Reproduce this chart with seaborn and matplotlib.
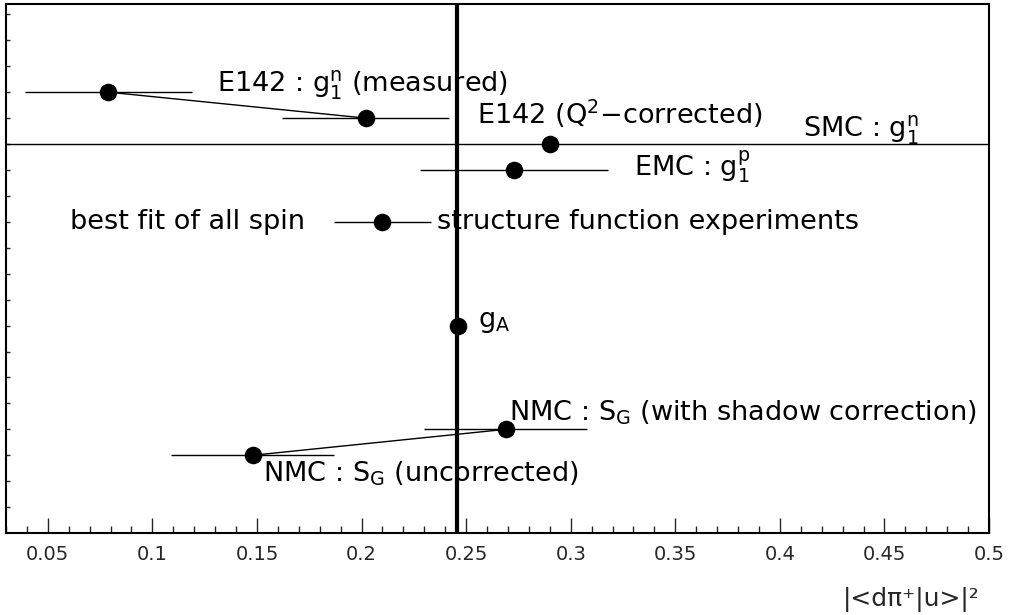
import numpy as np
import pandas as pd
import seaborn as sns
import matplotlib.pyplot as plt
from matplotlib.ticker import MultipleLocator, FixedLocator

# measurements of |<d pi+ | u>|^2, one row per experiment (row = vertical slot)
names = ["E142 measured", "E142 Q2-corrected", "SMC", "EMC", "best fit",
         "gA", "NMC shadow", "NMC uncorrected"]
values = [0.079, 0.202, 0.290, 0.273, 0.210, 0.246, 0.269, 0.148]
errors = [0.040, 0.040, 0.300, 0.045, 0.023, 0.0, 0.039, 0.039]
rows = [3, 4, 5, 6, 8, 12, 16, 17]

# pairs of points joined by a thin line (index into the lists above)
links = [(0, 1), (7, 6)]

# g_A reference value (thick vertical line)
g_a_line = 0.2458

# text labels: (text, x, row)
label_text = [r"E142 : $\mathrm{g}_1^{\mathrm{n}}$ (measured)",
              r"E142 (Q$^2$$-$corrected)",
              r"SMC : $\mathrm{g}_1^{\mathrm{n}}$",
              r"EMC : $\mathrm{g}_1^{\mathrm{p}}$",
              "best fit of all spin",
              "structure function experiments",
              r"$\mathrm{g}_{\mathrm{A}}$",
              r"NMC : S$_{\mathrm{G}}$ (with shadow correction)",
              r"NMC : S$_{\mathrm{G}}$ (uncorrected)"]
label_x = [0.131, 0.2554, 0.411, 0.3305, 0.0605, 0.236, 0.2558, 0.2707, 0.153]
label_row = [2.72, 3.84, 4.46, 5.92, 8.0, 8.0, 11.86, 15.37, 17.73]

df = pd.DataFrame({"name": names, "value": values, "err": errors, "row": rows})

sns.set_style("ticks")
plt.rcParams['font.family'] = ['DejaVu Sans']
plt.rcParams['mathtext.fontset'] = 'dejavusans'

fig = plt.figure(figsize=(10.12, 6.15), dpi=100)
ax = fig.add_axes([6 / 1012, 1 - 533 / 615, 983 / 1012, 529 / 615])

# horizontal error bars
ax.hlines(df["row"], df["value"] - df["err"], df["value"] + df["err"],
          color="black", linewidth=1.0, zorder=2)

# lines joining measured / corrected values
for a, b in links:
    ax.plot([values[a], values[b]], [rows[a], rows[b]], color="black",
            linewidth=1.0, zorder=2)

# the points
sns.scatterplot(data=df, x="value", y="row", color="black", s=160,
                edgecolor="black", linewidth=0, zorder=3, ax=ax, legend=False)

# labels
for t, x, r in zip(label_text, label_x, label_row):
    ax.text(x, r, t, ha="left", va="center", fontsize=19.5, color="black", zorder=1)

# thick line drawn over the text
ax.axvline(g_a_line, color="black", linewidth=3, zorder=4)

ax.set_xlim(0.03, 0.5)
ax.set_ylim(19.998, -0.4)
ax.xaxis.set_major_locator(MultipleLocator(0.05))
ax.xaxis.set_minor_locator(MultipleLocator(0.01))
ax.yaxis.set_major_locator(FixedLocator(np.arange(0, 20, 1)))
ax.set_xticks(np.arange(0.05, 0.501, 0.05))
ax.set_xticklabels([f"{v:g}" for v in np.arange(0.05, 0.501, 0.05)], fontsize=14)
ax.set_yticklabels([])
ax.tick_params(axis="x", which="major", direction="in", length=11, width=1, pad=9)
ax.tick_params(axis="x", which="minor", direction="in", length=5, width=1)
ax.tick_params(axis="y", which="major", direction="in", length=3, width=1)
for s in ax.spines.values():
    s.set_linewidth(1.5)
    s.set_color("black")
ax.set_xlabel("")
ax.set_ylabel("")

fig.text(980 / 1012, 1 - 600 / 615, "|<dπ⁺|u>|²", ha="right", va="center", fontsize=18)

fig.savefig("out.png", dpi=100)
